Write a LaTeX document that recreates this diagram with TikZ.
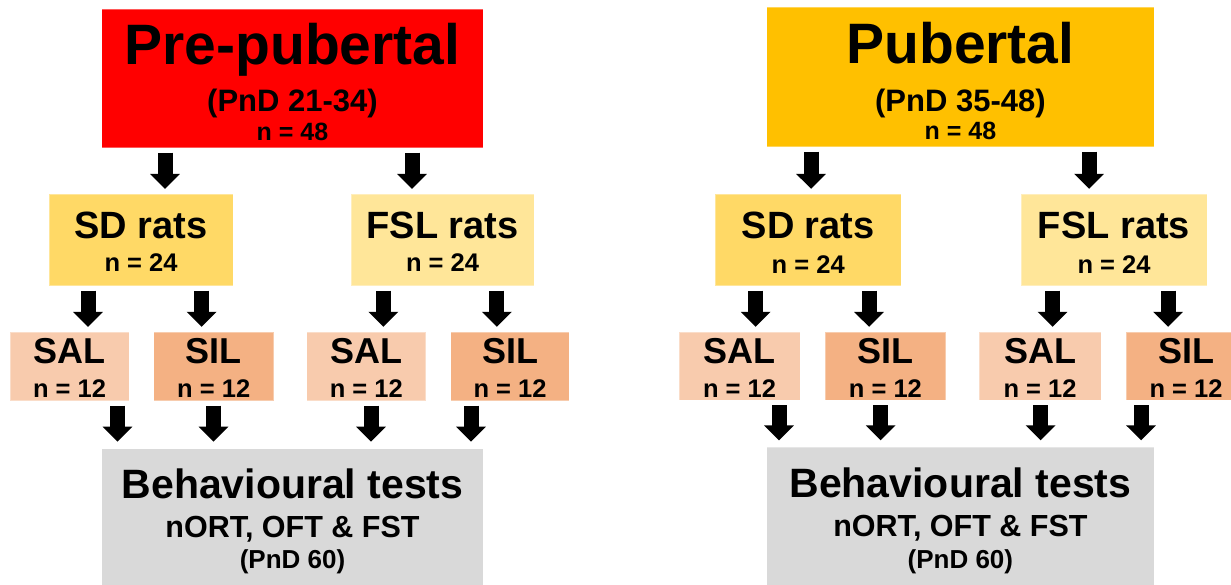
\documentclass[tikz,border=0pt]{standalone}
\usepackage{fontspec}
\setmainfont{Liberation Sans}
\usetikzlibrary{arrows.meta}
\definecolor{cRed}{HTML}{FF0000}
\definecolor{cGold}{HTML}{FFC000}
\definecolor{cSD}{HTML}{FFD966}
\definecolor{cFSL}{HTML}{FFE699}
\definecolor{cSAL}{HTML}{F8CBAD}
\definecolor{cSIL}{HTML}{F4B183}
\definecolor{cGrey}{HTML}{D9D9D9}
\newcommand{\fs}[1]{\fontsize{#1}{#1}\selectfont\bfseries}
\begin{document}
\begin{tikzpicture}[x=1pt,y=-1pt,
  box/.style={draw=white,draw opacity=0.35,line width=0.8pt,inner sep=0pt,outer sep=0pt},
  txt/.style={inner sep=0pt,anchor=base,text=black},
  blk/.style={-{Triangle[width=29pt,length=15pt]},line width=15pt,shorten <=5pt,shorten >=5.5pt},
  blkl/.style={blk,shorten >=7pt}]
\useasboundingbox (0,0) rectangle (1231,584);
% ---------------- left panel ----------------
\node[box,fill=cRed,minimum width=381.7pt,minimum height=138.7pt] (prepub) at (292.45,78.35) {};
\node[box,fill=cSD,minimum width=183.8pt,minimum height=91.4pt] (sdL) at (141.1,240) {};
\node[box,fill=cFSL,minimum width=183pt,minimum height=91.4pt] (fslL) at (442.5,240) {};
\node[box,fill=cSAL,minimum width=119pt,minimum height=68.2pt] (salLa) at (69.5,366.4) {};
\node[box,fill=cSIL,minimum width=120.2pt,minimum height=68.2pt] (silLa) at (213.7,366.4) {};
\node[box,fill=cSAL,minimum width=119.1pt,minimum height=68.2pt] (salLb) at (366.25,366.4) {};
\node[box,fill=cSIL,minimum width=118.6pt,minimum height=68.2pt] (silLb) at (510.1,366.4) {};
\node[box,fill=cGrey,minimum width=381.7pt,minimum height=151.3pt] (behL) at (292.45,524.35) {};

\node[txt,font=\fs{57}] (tPre) at (292.5,64.5) {Pre-pubertal};
\node[txt,font=\fs{31}] (tPreD) at (292.5,111.5) {(PnD 21-34)};
\node[txt,font=\fs{25}] (tPreN) at (292.5,140.5) {n = 48};
\node[txt,font=\fs{38}] (tSDL) at (141.1,238) {SD rats};
\node[txt,font=\fs{25.5}] (tSDLn) at (141.1,271.7) {n = 24};
\node[txt,font=\fs{38}] (tFSLL) at (442.5,238) {FSL rats};
\node[txt,font=\fs{25.5}] (tFSLLn) at (442.5,271.7) {n = 24};
\node[txt,font=\fs{36}] (tSALa) at (69.5,363.3) {SAL};
\node[txt,font=\fs{25.5}] (tSALan) at (69.5,397) {n = 12};
\node[txt,font=\fs{36}] (tSILa) at (213.7,363.3) {SIL};
\node[txt,font=\fs{25.5}] (tSILan) at (213.7,397) {n = 12};
\node[txt,font=\fs{36}] (tSALb) at (366.3,363.3) {SAL};
\node[txt,font=\fs{25.5}] (tSALbn) at (366.3,397) {n = 12};
\node[txt,font=\fs{36}] (tSILb) at (510.1,363.3) {SIL};
\node[txt,font=\fs{25.5}] (tSILbn) at (510.1,397) {n = 12};
\node[txt,font=\fs{41}] (tBehL) at (292.5,498.3) {Behavioural tests};
\node[txt,font=\fs{30.5}] (tBehL2) at (292.5,537) {nORT, OFT \& FST};
\node[txt,font=\fs{26}] (tBehL3) at (292.5,568.3) {(PnD 60)};

\coordinate (x1) at (165,0);
\coordinate (x2) at (412,0);
\coordinate (x3) at (88,0);
\coordinate (x4) at (201.6,0);
\coordinate (x5) at (383.3,0);
\coordinate (x6) at (496.8,0);
\coordinate (x7) at (117.5,0);
\coordinate (x8) at (213.5,0);
\coordinate (x9) at (371,0);
\coordinate (x10) at (471,0);
\draw[blk] (prepub.south -| x1) -- (sdL.north -| x1);
\draw[blk] (prepub.south -| x2) -- (fslL.north -| x2);
\draw[blk] (sdL.south -| x3) -- (salLa.north -| x3);
\draw[blk] (sdL.south -| x4) -- (silLa.north -| x4);
\draw[blk] (fslL.south -| x5) -- (salLb.north -| x5);
\draw[blk] (fslL.south -| x6) -- (silLb.north -| x6);
\draw[blkl] (salLa.south -| x7) -- (behL.north -| x7);
\draw[blkl] (silLa.south -| x8) -- (behL.north -| x8);
\draw[blkl] (salLb.south -| x9) -- (behL.north -| x9);
\draw[blkl] (silLb.south -| x10) -- (behL.north -| x10);

% ---------------- right panel ----------------
\node[box,fill=cGold,minimum width=387.2pt,minimum height=139.4pt] (pub) at (960.4,77) {};
\node[box,fill=cSD,minimum width=186.3pt,minimum height=91.4pt] (sdR) at (808.15,240) {};
\node[box,fill=cFSL,minimum width=186pt,minimum height=91.4pt] (fslR) at (1114,240) {};
\node[box,fill=cSAL,minimum width=121pt,minimum height=68pt] (salRa) at (739.5,366.3) {};
\node[box,fill=cSIL,minimum width=120.8pt,minimum height=68pt] (silRa) at (885.4,366.3) {};
\node[box,fill=cSAL,minimum width=122pt,minimum height=68pt] (salRb) at (1040,366.3) {};
\node[box,fill=cSIL,minimum width=120pt,minimum height=68pt] (silRb) at (1186,366.3) {};
\node[box,fill=cGrey,minimum width=387.2pt,minimum height=152.7pt] (behR) at (960.4,523.65) {};

\node[txt,font=\fs{57}] (tPub) at (960.4,63.3) {Pubertal};
\node[txt,font=\fs{31}] (tPubD) at (960.4,111) {(PnD 35-48)};
\node[txt,font=\fs{25}] (tPubN) at (960.4,139.5) {n = 48};
\node[txt,font=\fs{38}] (tSDR) at (808.2,238.5) {SD rats};
\node[txt,font=\fs{25.5}] (tSDRn) at (808.2,273) {n = 24};
\node[txt,font=\fs{38}] (tFSLR) at (1114,238.5) {FSL rats};
\node[txt,font=\fs{25.5}] (tFSLRn) at (1114,273) {n = 24};
\node[txt,font=\fs{36}] (tSALc) at (739.5,363) {SAL};
\node[txt,font=\fs{25.5}] (tSALcn) at (739.5,397) {n = 12};
\node[txt,font=\fs{36}] (tSILc) at (885.4,363) {SIL};
\node[txt,font=\fs{25.5}] (tSILcn) at (885.4,397) {n = 12};
\node[txt,font=\fs{36}] (tSALd) at (1040,363) {SAL};
\node[txt,font=\fs{25.5}] (tSALdn) at (1040,397) {n = 12};
\node[txt,font=\fs{36}] (tSILd) at (1186,363) {SIL};
\node[txt,font=\fs{25.5}] (tSILdn) at (1186,397) {n = 12};
\node[txt,font=\fs{41}] (tBehR) at (960.4,497) {Behavioural tests};
\node[txt,font=\fs{30.5}] (tBehR2) at (960.4,536.5) {nORT, OFT \& FST};
\node[txt,font=\fs{26}] (tBehR3) at (960.4,568.3) {(PnD 60)};

\coordinate (y1) at (811,0);
\coordinate (y2) at (1089,0);
\coordinate (y3) at (755.7,0);
\coordinate (y4) at (869,0);
\coordinate (y5) at (1052.5,0);
\coordinate (y6) at (1168,0);
\coordinate (y7) at (779,0);
\coordinate (y8) at (880.7,0);
\coordinate (y9) at (1040.6,0);
\coordinate (y10) at (1141,0);
\draw[blk] (pub.south -| y1) -- (sdR.north -| y1);
\draw[blk] (pub.south -| y2) -- (fslR.north -| y2);
\draw[blk] (sdR.south -| y3) -- (salRa.north -| y3);
\draw[blk] (sdR.south -| y4) -- (silRa.north -| y4);
\draw[blk] (fslR.south -| y5) -- (salRb.north -| y5);
\draw[blk] (fslR.south -| y6) -- (silRb.north -| y6);
\draw[blkl] (salRa.south -| y7) -- (behR.north -| y7);
\draw[blkl] (silRa.south -| y8) -- (behR.north -| y8);
\draw[blkl] (salRb.south -| y9) -- (behR.north -| y9);
\draw[blkl] (silRb.south -| y10) -- (behR.north -| y10);
\end{tikzpicture}
\end{document}
